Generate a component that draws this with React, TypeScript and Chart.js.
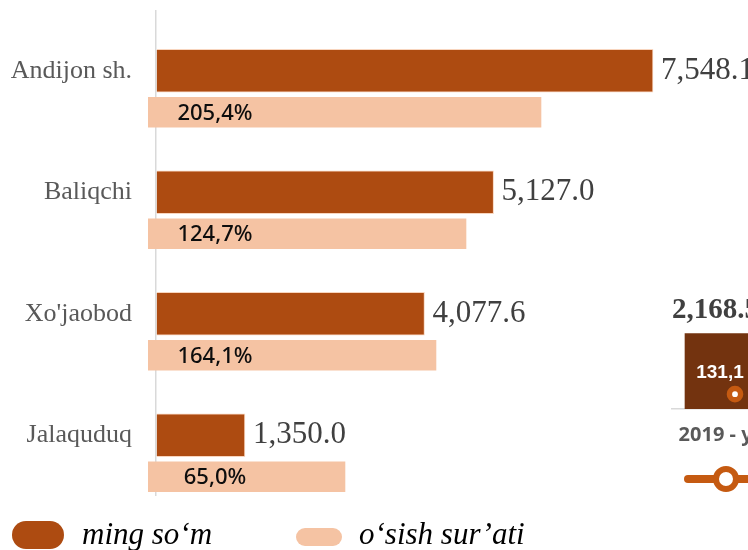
import React, { useEffect, useRef } from "react";
import { Chart, registerables } from "chart.js";

Chart.register(...registerables);

// ---------- data ----------
const categories = ["Andijon sh.", "Baliqchi", "Xo'jaobod", "Jalaquduq"];
const amountValues = [7548.1, 5127.0, 4077.6, 1350.0]; // ming so‘m
const growthLabels = ["205,4%", "124,7%", "164,1%", "65,0%"]; // o‘sish sur’ati
const growthBarLengths = [5847, 4708, 4252, 2870]; // drawn length of the light bars (same x units)
const seriesNames = ["ming so‘m", "o‘sish sur’ati"];

const sideCategories = ["2019 - yillar"];
const sideAmount = [2168.5];
const sideGrowth = [131.1];
const sideGrowthLabels = ["131,1"];

// ---------- style ----------
const DARK = "#ad4b11";
const LIGHT = "#f5c3a3";
const SIDE_BAR = "#73330f";
const SIDE_LINE = "#c55a11";
const X_MIN = -121.5;
const X_MAX = 8991;

const fmt = (v: number) =>
  v.toLocaleString("en-US", { minimumFractionDigits: 1, maximumFractionDigits: 1 });

const mainLabels = {
  id: "mainLabels",
  afterDatasetsDraw(chart: any) {
    const ctx = chart.ctx;
    ctx.save();
    const dark = chart.getDatasetMeta(0);
    ctx.font = '31px "Liberation Serif"';
    ctx.fillStyle = "#404040";
    ctx.textAlign = "left";
    ctx.textBaseline = "middle";
    dark.data.forEach((bar: any, i: number) => {
      ctx.fillText(fmt(amountValues[i]), bar.x + 8, bar.y);
    });
    const light = chart.getDatasetMeta(1);
    ctx.font = '500 22px "Noto Sans"';
    ctx.fillStyle = "#0d0d0d";
    ctx.textAlign = "center";
    light.data.forEach((bar: any, i: number) => {
      ctx.fillText(growthLabels[i], bar.base + 67, bar.y + 1);
    });
    ctx.restore();
  },
};

const sideLabels = {
  id: "sideLabels",
  afterDatasetsDraw(chart: any) {
    const ctx = chart.ctx;
    ctx.save();
    const bars = chart.getDatasetMeta(1);
    ctx.font = 'bold 29px "Liberation Serif"';
    ctx.fillStyle = "#404040";
    ctx.textAlign = "left";
    ctx.textBaseline = "alphabetic";
    bars.data.forEach((bar: any, i: number) => {
      ctx.fillText(fmt(sideAmount[i]), bar.x - bar.width / 2 - 13, bar.y - 16);
    });
    const pts = chart.getDatasetMeta(0);
    ctx.font = 'bold 19px "Liberation Sans Narrow", "Liberation Sans"';
    ctx.fillStyle = "#ffffff";
    ctx.textAlign = "center";
    ctx.textBaseline = "middle";
    pts.data.forEach((p: any, i: number) => {
      ctx.fillText(sideGrowthLabels[i], p.x - 15, p.y - 21);
    });
    ctx.restore();
  },
};

export default function App() {
  const mainRef = useRef<HTMLCanvasElement | null>(null);
  const sideRef = useRef<HTMLCanvasElement | null>(null);

  useEffect(() => {
    const main = new Chart(mainRef.current as HTMLCanvasElement, {
      type: "bar",
      data: {
        labels: categories,
        datasets: [
          {
            label: seriesNames[0],
            data: amountValues,
            backgroundColor: DARK,
            borderColor: "rgba(245,195,163,0.7)",
            borderWidth: 1,
            barThickness: 43,
            grouped: false,
            yAxisID: "y",
          } as any,
          {
            label: seriesNames[1],
            data: growthBarLengths.map((v, i) => ({ x: v, y: i })),
            backgroundColor: LIGHT,
            barThickness: 30,
            grouped: false,
            base: X_MIN,
            yAxisID: "y2",
          } as any,
        ],
      },
      options: {
        indexAxis: "y",
        animation: false,
        responsive: false,
        events: [],
        layout: { padding: { top: 10, bottom: 54, left: 0, right: 0 } },
        plugins: { legend: { display: false }, tooltip: { enabled: false } },
        scales: {
          x: {
            type: "linear",
            min: X_MIN,
            max: X_MAX,
            ticks: { display: false },
            grid: {
              drawTicks: false,
              lineWidth: 1.5,
              color: (c: any) =>
                c.tick && c.tick.value === 0 ? "#d9d9d9" : "rgba(0,0,0,0)",
            },
            border: { display: false },
            afterBuildTicks: (s: any) => {
              s.ticks = [{ value: 0 }];
            },
            afterFit: (s: any) => {
              s.paddingLeft = 0;
              s.paddingRight = 0;
            },
          },
          y: {
            type: "category",
            grid: { display: false, drawTicks: false },
            border: { display: false },
            ticks: {
              font: { family: '"Liberation Serif"', size: 26 },
              color: "#595959",
              padding: 16,
            },
            afterFit: (s: any) => {
              s.width = 148;
              s.paddingTop = 0;
              s.paddingBottom = 0;
            },
          },
          y2: {
            type: "linear",
            display: false,
            offset: false,
            reverse: true,
            min: -0.8416,
            max: 3.1584,
          },
        },
      } as any,
      plugins: [mainLabels],
    });

    const side = new Chart(sideRef.current as HTMLCanvasElement, {
      type: "bar",
      data: {
        labels: sideCategories,
        datasets: [
          {
            type: "line",
            label: "o‘sish sur’ati",
            data: sideGrowth,
            yAxisID: "y1",
            borderColor: SIDE_LINE,
            borderWidth: 5,
            pointRadius: 5.6,
            pointBorderWidth: 5.4,
            pointBackgroundColor: "#ffffff",
            pointBorderColor: SIDE_LINE,
            order: 0,
          } as any,
          {
            type: "bar",
            label: "ming so‘m",
            data: sideAmount,
            backgroundColor: SIDE_BAR,
            barThickness: 100,
            yAxisID: "y",
            order: 1,
          } as any,
        ],
      },
      options: {
        animation: false,
        responsive: false,
        events: [],
        layout: { padding: { top: 10, bottom: 0, left: 0, right: 0 } },
        plugins: { legend: { display: false }, tooltip: { enabled: false } },
        scales: {
          x: {
            type: "category",
            offset: true,
            grid: { display: false, drawTicks: false },
            border: { display: true, color: "#d9d9d9", width: 1.5 },
            ticks: {
              font: { family: '"Noto Sans"', size: 20, weight: "bold" },
              color: "#595959",
              padding: 14,
              maxRotation: 0,
            },
            afterFit: (s: any) => {
              s.height = 71;
              s.paddingLeft = 0;
              s.paddingRight = 0;
            },
          },
          y: { display: false, min: 0, max: 3395 },
          y1: { display: false, min: 0, max: 1040 },
        },
      } as any,
      plugins: [sideLabels],
    });

    return () => {
      main.destroy();
      side.destroy();
    };
  }, []);

  const legendText: React.CSSProperties = {
    position: "absolute",
    top: 518,
    fontFamily: '"Liberation Serif", serif',
    fontStyle: "italic",
    fontSize: 31,
    lineHeight: "32px",
    color: "#000",
    whiteSpace: "nowrap",
  };

  return (
    <div
      style={{
        position: "fixed",
        left: 0,
        top: 0,
        width: 748,
        height: 550,
        overflow: "hidden",
        background: "#fff",
      }}
    >
      <canvas
        ref={mainRef}
        width={748}
        height={550}
        style={{ position: "absolute", left: 0, top: 0 }}
      />
      <canvas
        ref={sideRef}
        width={148}
        height={200}
        style={{ position: "absolute", left: 661, top: 280 }}
      />
      {/* legend of the main chart */}
      <div
        style={{
          position: "absolute",
          left: 12,
          top: 521,
          width: 52,
          height: 28,
          borderRadius: 14,
          background: DARK,
        }}
      />
      <span style={{ ...legendText, left: 82 }}>{seriesNames[0]}</span>
      <div
        style={{
          position: "absolute",
          left: 296,
          top: 528,
          width: 46,
          height: 18,
          borderRadius: 9,
          background: LIGHT,
        }}
      />
      <span style={{ ...legendText, left: 359 }}>{seriesNames[1]}</span>
      {/* legend sample of the side chart's line */}
      <div
        style={{
          position: "absolute",
          left: 684,
          top: 475,
          width: 80,
          height: 8,
          borderRadius: 4,
          background: SIDE_LINE,
        }}
      />
      <div
        style={{
          position: "absolute",
          left: 713,
          top: 466,
          width: 26,
          height: 26,
          boxSizing: "border-box",
          border: `6.5px solid ${SIDE_LINE}`,
          borderRadius: "50%",
          background: "#fff",
        }}
      />
    </div>
  );
}
